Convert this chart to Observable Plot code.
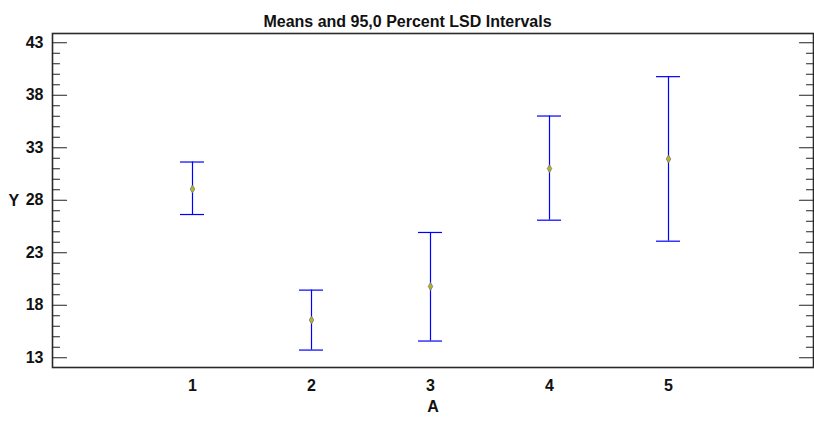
<!DOCTYPE html>
<html>
<head>
<meta charset="utf-8">
<script src="https://cdn.jsdelivr.net/npm/d3@7"></script>
<script src="https://cdn.jsdelivr.net/npm/@observablehq/plot@0.6"></script>
<style>
  html, body { margin: 0; padding: 0; background: #fff; }
</style>
</head>
<body>
<div id="chart"></div>
<script>
const levels = ["1", "2", "3", "4", "5"];
const means  = [29.07, 16.59, 19.79, 31.01, 31.93];
const lower  = [26.64, 13.73, 14.59, 26.10, 24.10];
const upper  = [31.64, 19.44, 24.93, 36.02, 39.77];
const majorTicks = [13, 18, 23, 28, 33, 38, 43];
const minorTicks = d3.range(13, 44).filter(v => !majorTicks.includes(v));
const title = "Means and 95,0 Percent LSD Intervals";

const data = levels.map((a, i) => ({a, mean: means[i], lo: lower[i], hi: upper[i]}));

const tickShape = { draw(context, l) { context.moveTo(0, 0); context.lineTo(0, -l); } };
const tickMarks = (values, side, len) => Plot.vector(values, {
  y: d => d, frameAnchor: side, rotate: side === "left" ? 90 : -90,
  length: len, anchor: "start", shape: tickShape, stroke: "#222", strokeWidth: 1.2
});

const chart = Plot.plot({
  width: 814,
  height: 426,
  marginLeft: 52,
  marginRight: 1,
  marginTop: 33,
  marginBottom: 59,
  style: {fontFamily: "'Liberation Sans', Arial, sans-serif", fontSize: "16px", fontWeight: "bold", color: "#111", background: "#fff"},
  x: {type: "band", domain: levels, paddingInner: 0.8, paddingOuter: 1.08, align: 0.491, tickSize: 0, tickPadding: 12, label: null},
  y: {domain: [12.07, 43.88], ticks: majorTicks, tickSize: 0, tickPadding: 9, label: null},
  marks: [
    Plot.frame({stroke: "#2a2a2a", strokeWidth: 1.6}),
    tickMarks(majorTicks, "left", 14),
    tickMarks(minorTicks, "left", 7),
    tickMarks(majorTicks, "right", 14),
    tickMarks(minorTicks, "right", 7),
    Plot.ruleX(data, {x: "a", y1: "lo", y2: "hi", stroke: "#0000ff", strokeWidth: 1.2}),
    Plot.tickY(data, {x: "a", y: "lo", stroke: "#0000ff", strokeWidth: 1.2}),
    Plot.tickY(data, {x: "a", y: "hi", stroke: "#0000ff", strokeWidth: 1.2}),
    Plot.dot(data, {x: "a", y: "mean", symbol: "diamond", r: 2.4, fill: "#b5b52a", stroke: "#707060", strokeWidth: 0.7}),
    Plot.text([title], {frameAnchor: "top", dx: -25.5, dy: -18, fontSize: 16, fontWeight: "bold"}),
    Plot.text(["A"], {frameAnchor: "bottom", dy: 44, fontSize: 16, fontWeight: "bold"}),
    Plot.text(["Y"], {frameAnchor: "left", dx: -44, fontSize: 16, fontWeight: "bold"})
  ]
});
document.getElementById("chart").appendChild(chart);
</script>
</body>
</html>
